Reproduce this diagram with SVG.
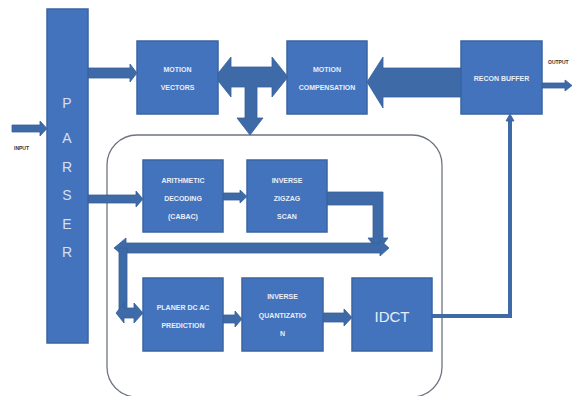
<svg xmlns="http://www.w3.org/2000/svg" width="572" height="396" viewBox="0 0 572 396">
<style>
.box{fill:#4473BD;stroke:#3A64A2;stroke-width:1.5}
.arr{fill:#3F6AA8;stroke:#36609C;stroke-width:0.8}
.ln{fill:none;stroke:#3F6AA8;stroke-width:4}
.t{font-family:"Liberation Sans",Arial,sans-serif;font-size:7px;font-weight:bold;fill:#E8EEF8;text-anchor:middle}
.big{font-size:15px;font-weight:normal}
.p{font-family:"Liberation Sans",Arial,sans-serif;font-size:14px;fill:#D6E0F0;text-anchor:middle}
.lbl{font-family:"Liberation Sans",Arial,sans-serif;font-size:5px;font-weight:bold;fill:#333;text-anchor:start}
</style>
<rect width="572" height="396" fill="#fff"/>
<g id="container"><rect x="107" y="135" width="335" height="262" rx="30" fill="none" stroke="#6E7480" stroke-width="1.3"/></g>
<g id="connectors">
<polygon class="arr" points="12,125 40,125 40,121 47,128.5 40,136 40,132 12,132"/>
<polygon class="arr" points="88,68 130,68 130,64 137,73 130,82 130,78 88,78"/>
<polygon class="arr" points="215,77 231,57 231,67 272,67 272,57 288,77 272,97 272,87 257,87 257,118 263,118 250,135 237,118 245,118 245,87 231,87 231,97"/>
<polygon class="arr" points="367,82 383,57 383,68 461,68 461,97 383,97 383,108"/>
<polygon class="arr" points="542,83 565,83 565,80 572,85.5 565,91 565,88 542,88"/>
<polygon class="arr" points="88,195 136,195 136,191 143,199 136,207 136,203 88,203"/>
<polygon class="arr" points="223,193 240,193 240,190 247,196.5 240,203 240,200 223,200"/>
<polygon class="arr" points="327,192 383,192 383,238 388,238 378,251 368,238 373,238 373,205 327,205"/>
<polygon class="arr" points="114,248 126,238 126,243 380,243 380,240 389,248 380,256 380,253 126,253 126,258"/>
<rect class="arr" x="119" y="248" width="8" height="66"/>
<polygon class="arr" points="116,313 124,303 124,308 134,308 134,303 143,313 134,323 134,318 124,318 124,323"/>
<polygon class="arr" points="223,315 235,315 235,311 242,319 235,327 235,323 223,323"/>
<polygon class="arr" points="323,313 344,313 344,309 352,317.5 344,326 344,322 323,322"/>
<polyline class="ln" points="432,316 510,316 510,120"/>
<polygon class="arr" points="506,121 510,114 514,121"/>
</g>
<g id="parser"><rect class="box" x="47" y="9" width="41" height="334"/>
<text class="p" x="67" y="108">P</text><text class="p" x="67" y="143">A</text><text class="p" x="67" y="172">R</text><text class="p" x="67" y="200">S</text><text class="p" x="67" y="229">E</text><text class="p" x="67" y="257">R</text></g>
<g id="motion-vectors"><rect class="box" x="137" y="41" width="81" height="73"/><text class="t" x="177.5" y="72">MOTION</text><text class="t" x="177.5" y="90">VECTORS</text></g>
<g id="motion-compensation"><rect class="box" x="287" y="41" width="80" height="73"/><text class="t" x="327" y="72">MOTION</text><text class="t" x="327" y="90">COMPENSATION</text></g>
<g id="recon-buffer"><rect class="box" x="461" y="41" width="81" height="73"/><text class="t" x="501.5" y="81">RECON BUFFER</text></g>
<g id="arithmetic"><rect class="box" x="143" y="160" width="80" height="72"/><text class="t" x="183" y="183">ARITHMETIC</text><text class="t" x="183" y="201">DECODING</text><text class="t" x="183" y="219">(CABAC)</text></g>
<g id="zigzag"><rect class="box" x="247" y="160" width="80" height="72"/><text class="t" x="287" y="183">INVERSE</text><text class="t" x="287" y="201">ZIGZAG</text><text class="t" x="287" y="219">SCAN</text></g>
<g id="planer"><rect class="box" x="143" y="278" width="80" height="73"/><text class="t" x="183" y="310">PLANER DC AC</text><text class="t" x="183" y="328">PREDICTION</text></g>
<g id="quantization"><rect class="box" x="242" y="278" width="81" height="73"/><text class="t" x="282.5" y="299">INVERSE</text><text class="t" x="282.5" y="318">QUANTIZATIO</text><text class="t" x="282.5" y="336">N</text></g>
<g id="idct"><rect class="box" x="352" y="278" width="80" height="73"/><text class="t big" x="392" y="322">IDCT</text></g>
<text class="lbl" x="14" y="150">INPUT</text>
<text class="lbl" x="548" y="64">OUTPUT</text>
</svg>
